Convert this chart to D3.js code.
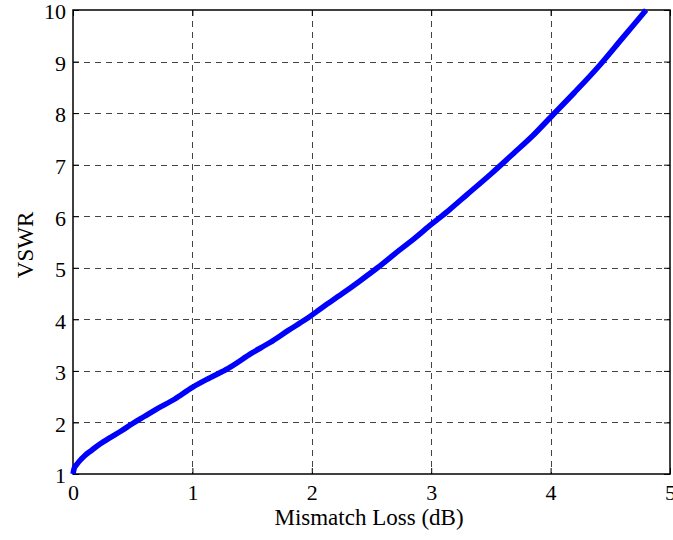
<!DOCTYPE html>
<html><head><meta charset="utf-8">
<script src="https://cdn.jsdelivr.net/npm/d3@7"></script>
<style>body{margin:0;background:#fff}svg{display:block}svg text{font-family:"Liberation Serif","Times New Roman",serif}</style>
</head><body>
<script>
const xTicks = [0, 1, 2, 3, 4, 5];
const yTicks = [1, 2, 3, 4, 5, 6, 7, 8, 9, 10];
const lossDb = [0, 0.01, 0.03, 0.05, 0.1, 0.15, 0.2, 0.3, 0.4, 0.5, 0.6, 0.7, 0.85, 1.0, 1.15, 1.3, 1.5, 1.65, 1.8, 1.95, 2.1, 2.25, 2.4, 2.55, 2.7, 2.85, 3.0, 3.15, 3.3, 3.5, 3.7, 3.85, 4.0, 4.2, 4.4, 4.6, 4.8];
const vswr   = [1, 1.11, 1.18, 1.24, 1.36, 1.45, 1.54, 1.69, 1.83, 1.98, 2.12, 2.26, 2.45, 2.68, 2.87, 3.05, 3.35, 3.55, 3.78, 4.0, 4.25, 4.49, 4.74, 5.0, 5.28, 5.55, 5.84, 6.12, 6.42, 6.82, 7.24, 7.56, 7.92, 8.4, 8.9, 9.45, 10.0];

const W = 673, H = 540;
const m = {left: 73, right: 670, top: 10, bottom: 474};
const svg = d3.select("body").append("svg").attr("width", W).attr("height", H);
const x = d3.scaleLinear().domain([0, 5]).range([m.left, m.right]);
const y = d3.scaleLinear().domain([1, 10]).range([m.bottom, m.top]);
const font = "Liberation Serif";

// grid
const g = svg.append("g");
g.selectAll(".gx").data(xTicks.slice(1, -1)).join("line")
  .attr("x1", d => Math.round(x(d)) + 0.5).attr("x2", d => Math.round(x(d)) + 0.5).attr("y1", m.top).attr("y2", m.bottom)
  .attr("stroke", "#444").attr("stroke-width", 1).attr("stroke-dasharray", "6,5");
g.selectAll(".gy").data(yTicks.slice(1, -1)).join("line")
  .attr("y1", d => Math.round(y(d)) + 0.5).attr("y2", d => Math.round(y(d)) + 0.5).attr("x1", m.left).attr("x2", m.right)
  .attr("stroke", "#444").attr("stroke-width", 1).attr("stroke-dasharray", "6,5");

// axes
const ax = (sel, axis) => {
  sel.call(axis); sel.attr("font-family", null);
  sel.select(".domain").remove();
  sel.selectAll("text").style("font-family", font).attr("font-size", 22).attr("fill", "#000");
  sel.selectAll("line").attr("stroke", "#000");
};
svg.append("g").attr("transform", `translate(0,${m.bottom})`).call(s => ax(s, d3.axisBottom(x).tickValues(xTicks).tickSize(-6).tickPadding(10).tickFormat(d3.format("d"))));
svg.append("g").attr("transform", `translate(${m.left},0)`).call(s => ax(s, d3.axisLeft(y).tickValues(yTicks).tickSize(-6).tickPadding(7).tickFormat(d3.format("d"))));
svg.selectAll("g").filter(function(){ return this.getAttribute("transform") === `translate(${m.left},0)`; })
  .selectAll("text").attr("dy", "0.4em");
svg.append("g").attr("transform", `translate(0,${m.top})`).call(s => ax(s, d3.axisTop(x).tickValues(xTicks).tickSize(-6).tickFormat("")));
svg.append("g").attr("transform", `translate(${m.right},0)`).call(s => ax(s, d3.axisRight(y).tickValues(yTicks).tickSize(-6).tickFormat("")));

svg.append("rect").attr("x", m.left).attr("y", m.top).attr("width", m.right - m.left).attr("height", m.bottom - m.top)
  .attr("fill", "none").attr("stroke", "#000").attr("stroke-width", 1.5);

// curve
const pts = lossDb.map((d, i) => [d, vswr[i]]);
svg.append("path").datum(pts)
  .attr("d", d3.line().x(d => x(d[0])).y(d => y(d[1])).curve(d3.curveMonotoneX))
  .attr("fill", "none").attr("stroke", "#0000ff").attr("stroke-width", 5.5).attr("stroke-linejoin", "round");

// labels
svg.append("text").attr("x", 369).attr("y", 525).attr("text-anchor", "middle")
  .style("font-family", font).attr("font-size", 23).text("Mismatch Loss (dB)");
svg.append("text").attr("transform", `translate(33,245) rotate(-90)`).attr("text-anchor", "middle")
  .style("font-family", font).attr("font-size", 23).text("VSWR");
</script>
</body></html>
